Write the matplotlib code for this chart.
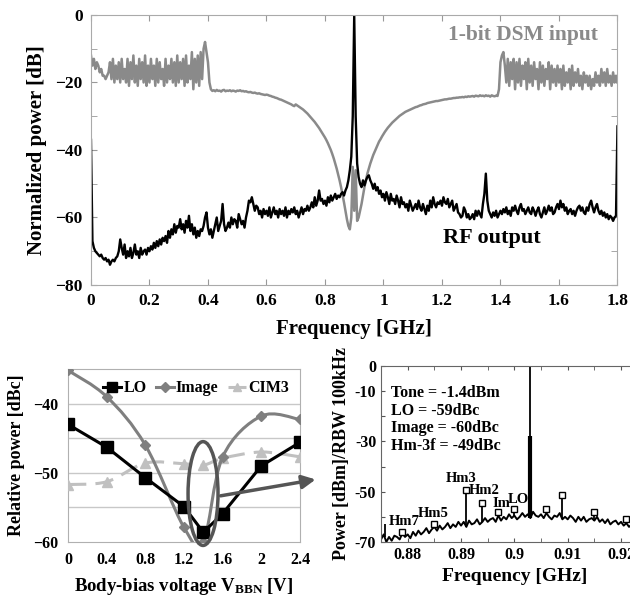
import numpy as np
import matplotlib
matplotlib.use("Agg")
import matplotlib.pyplot as plt
from matplotlib.path import Path
from matplotlib.patches import PathPatch, Ellipse
from matplotlib.lines import Line2D

plt.rcParams['font.family'] = 'Liberation Serif'
plt.rcParams['font.weight'] = 'bold'
plt.rcParams['axes.labelweight'] = 'bold'
plt.rcParams['mathtext.fontset'] = 'custom'
plt.rcParams['mathtext.rm'] = 'Liberation Serif:bold'
plt.rcParams['mathtext.it'] = 'Liberation Serif:bold'
plt.rcParams['mathtext.bf'] = 'Liberation Serif:bold'

# ---- top panel: normalized spectra, 0..1.8 GHz every 5 MHz ----
freq_top = np.linspace(0, 1.8, 361)

dsm_input = [
    -12, -15, -13, -16, -14, -15, -17, -16, -18, -18, -19, -18, -17, -14, -19, -13, -20, -15, -19, -14,
    -20, -13, -19, -16, -20, -13, -21, -14, -19, -12, -20, -15, -21, -13, -19, -14, -20, -12, -21, -15,
    -20, -13, -19, -15, -21, -13, -20, -14, -19, -16, -21, -13, -20, -15, -19, -13, -20, -14, -21, -12,
    -20, -14, -19, -13, -21, -12, -20, -15, -19, -11, -22, -13, -20, -12, -21, -11, -19, -10, -8, -11,
    -14, -20, -22, -22.5, -22.3, -22.6, -22.2, -22.5, -22.4, -22.7, -22.3, -22.2, -22.6, -22.4, -22.5, -22.3, -22.6, -22.4, -22.5, -22.7,
    -22.4, -22.5, -22.3, -22.6, -22.5, -22.7, -22.6, -22.8, -22.9, -22.8, -23.0, -23.1, -23.0, -23.2, -23.3, -23.2, -23.4, -23.5, -23.6, -23.7,
    -23.6, -23.7, -23.9, -24.0, -24.2, -24.3, -24.5, -24.6, -24.8, -25.0, -25.1, -25.3, -25.5, -25.7, -25.9, -26.1, -26.3, -26.5, -26.8, -27.0,
    -26.5, -26.8, -27.1, -27.4, -27.7, -28.0, -28.4, -28.8, -29.2, -29.7, -30.2, -30.7, -31.2, -31.7, -32.3, -32.9, -33.5, -34.2, -34.9, -35.6,
    -36.3, -37.1, -38.0, -39.0, -40.0, -41.2, -42.5, -44.0, -45.5, -47.2, -49.0, -51.0, -53.2, -55.5, -58.0, -60.5, -62.5, -63.5, -60.0, -45.0,
    -58, -46, -61, -60, -58, -56, -53.5, -51, -49, -47, -45.5, -44, -42.7, -41.5, -40.5, -39.5, -38.5, -37.5, -36.8, -36.0,
    -35.3, -34.6, -34.0, -33.4, -32.9, -32.4, -31.9, -31.5, -31.1, -30.7, -30.3, -29.9, -29.6, -29.3, -29.0, -28.7, -28.5, -28.3, -28.1, -27.9,
    -27.7, -27.5, -27.3, -27.2, -27.0, -26.8, -26.7, -26.5, -26.4, -26.3, -26.1, -26.0, -25.9, -25.8, -25.7, -25.6, -25.5, -25.5, -25.4, -25.3,
    -25.2, -25.1, -25.0, -25.0, -24.9, -24.8, -24.8, -24.7, -24.6, -24.6, -24.5, -24.5, -24.4, -24.4, -24.3, -24.4, -24.2, -24.3, -24.1, -24.2,
    -24.1, -24.0, -24.2, -23.9, -24.0, -24.1, -23.8, -24.0, -23.9, -24.1, -23.8, -24.0, -23.9, -24.2, -23.8, -24.0, -24.1, -23.9, -24.0, -22,
    -14, -12, -11, -15, -20, -13, -21, -14, -19, -13, -22, -14, -20, -13, -21, -15, -19, -14, -22, -13,
    -20, -15, -21, -14, -19, -16, -22, -14, -20, -15, -21, -16, -19, -14, -22, -15, -20, -16, -21, -15,
    -20, -16, -22, -15, -21, -17, -20, -16, -22, -15, -21, -17, -20, -16, -21, -18, -22, -17, -20, -18,
    -21, -18, -22, -19, -21, -17, -20, -18, -21, -16, -20, -17, -21, -16, -20, -18, -21, -17, -20, -18, -20,
]

rf_output = [
    -37, -67, -69, -70, -70.5, -71, -71.5, -71, -72, -72.5, -72, -73, -72.5, -74, -73, -72.5, -73, -72, -71.5, -70,
    -66.5, -69, -71, -68, -72, -70, -71.5, -69, -72, -70.5, -68, -71, -70, -72, -69, -71, -70, -69.5, -71, -69,
    -70, -68.5, -69.5, -67.5, -69, -67, -68.5, -66.5, -68, -66, -67, -65.5, -67.5, -64, -66, -63.5, -65, -62, -64.5, -62.5,
    -63, -60.5, -63.5, -62, -64.5, -61, -63, -59.5, -64, -62, -65, -63, -66, -64, -65.5, -63.5, -64, -62.5, -60, -58.5,
    -63, -65, -63.5, -66, -64, -62, -60, -64, -62.5, -61, -56, -62, -64, -63, -61.5, -63, -60, -62, -60.5, -61,
    -63, -59, -60.5, -62, -61, -63, -60, -58, -55, -55.5, -54, -56, -58, -56.5, -57, -59, -58, -60, -57.5, -59,
    -58, -59.5, -57, -60, -58.5, -57, -59, -58, -60, -57.5, -59, -58, -59.5, -57, -60, -58, -59, -57.5, -58.5, -57,
    -59, -58, -60, -58.5, -57, -59, -57.5, -58, -56.5, -58, -57, -55.5, -57, -54, -56.5, -55, -52, -55, -54.5, -56,
    -55, -56.5, -54, -55.5, -53.5, -55, -54, -53, -54.5, -53.5, -54, -53, -52.5, -53.5, -52, -51, -49, -46, -42, -30,
    0, -30, -44, -48, -50, -51, -49, -50.5, -49, -48, -47.5, -49, -50, -51.5, -50, -52, -51, -53, -52, -54,
    -53, -55, -52.5, -54, -56, -53, -55, -54.5, -56, -53.5, -55, -57, -54, -56, -55.5, -57, -56, -58, -55, -56.5,
    -58, -57, -56, -57.5, -55, -57, -58, -56, -57.5, -59, -56.5, -58, -55, -57, -54, -56, -57, -55.5, -56, -55,
    -56.5, -54, -55.5, -56, -54.5, -57, -56, -55, -58, -57, -56, -58.5, -59, -60, -59.5, -57, -58, -60, -59, -60.5,
    -60, -59, -60.5, -58, -59.5, -58, -59, -60, -56, -53, -47, -55, -58, -59, -60, -58.5, -59.5, -58, -60, -59,
    -58, -59, -57.5, -58.5, -57, -59, -58, -59.5, -57, -58, -56.5, -58, -59, -57, -56, -58, -57.5, -59, -58, -57,
    -58.5, -59, -57, -58, -59.5, -58, -57, -59, -60, -58.5, -57, -59, -58, -56.5, -58, -57, -59, -58.5, -57, -56,
    -57.5, -55, -57, -56, -58, -57, -59, -58, -57.5, -59, -58, -59.5, -58, -57, -56.5, -58, -57, -58.5, -59, -57,
    -58, -56, -55, -57, -58.5, -57, -56, -58, -59, -58, -59.5, -58.5, -60, -59, -60.5, -59.5, -60, -61, -60, -59.5, -33,
]

# ---- bottom-left: body-bias sweep ----
vbbn = [0, 0.4, 0.8, 1.2, 1.4, 1.6, 2.0, 2.4]
lo_dbc = [-43, -46.3, -50.7, -54.9, -58.6, -55.9, -49, -45.6]
image_dbc = [-35.2, -39, -46, -57.9, -60, -47.7, -41.8, -42.3]
cim3_dbc = [-51.7, -51.3, -48.6, -48.7, -48.9, -47.9, -47, -47.7]

# ---- bottom-right: zoomed output spectrum ----
freq_zoom = np.linspace(0.875, 0.925, 101)
floor_dbm = [
    -69, -67, -70, -68, -69.5, -67.5, -68, -69, -66.5, -68,
    -67, -68.5, -66, -67.5, -65.5, -67, -66, -64.5, -66.5, -65,
    -64, -65.5, -63.5, -65, -64, -62.5, -64.5, -63, -64, -62,
    -63.5, -62, -64, -61.5, -63, -62.5, -61, -63, -62, -60.5,
    -62, -61, -60.5, -62, -59.5, -61.5, -60, -61, -59, -60.5,
    -59.5, -61, -60, -58.5, -60, -59, -60.5, -58, -59.5, -60,
    -59, -60.5, -58.5, -60, -61, -59.5, -60, -58.5, -61, -60,
    -61, -59.5, -60.5, -62, -60, -61.5, -60, -62, -61, -60.5,
    -61.5, -60, -62, -61, -62.5, -61, -63, -62, -61.5, -63,
    -62, -63.5, -62.5, -64, -63, -62, -64.5, -63, -65, -64,
    -64.5,
]
spur_freq = [0.8757, 0.891, 0.894, 0.897, 0.900, 0.903, 0.906, 0.909, 0.915]
spur_peak = [-63, -50, -55, -58, -57, 0, -57, -51, -58]
mark_freq = [0.879, 0.885, 0.891, 0.894, 0.897, 0.900, 0.906, 0.909, 0.915, 0.921]
mark_peak = [-66, -63, -49.5, -54.5, -58, -57, -57, -51.5, -58, -61]
lbl_text = ["Hm7", "Hm5", "Hm3", "Hm2", "Im", "LO"]
lbl_freq = [0.8793, 0.8847, 0.8900, 0.8943, 0.8975, 0.9008]
lbl_db = [-62, -58.5, -44.6, -49.6, -54.6, -53.3]


def smooth(ax, x, y, **kw):
    # excel-like smoothed line through the points
    x = np.asarray(x, float)
    y = np.asarray(y, float)
    verts = [(x[0], y[0])]
    codes = [Path.MOVETO]
    n = len(x)
    for i in range(n - 1):
        p0 = (x[max(i - 1, 0)], y[max(i - 1, 0)])
        p1 = (x[i], y[i])
        p2 = (x[i + 1], y[i + 1])
        p3 = (x[min(i + 2, n - 1)], y[min(i + 2, n - 1)])
        c1 = (p1[0] + (p2[0] - p0[0]) / 6, p1[1] + (p2[1] - p0[1]) / 6)
        c2 = (p2[0] - (p3[0] - p1[0]) / 6, p2[1] - (p3[1] - p1[1]) / 6)
        verts += [c1, c2, p2]
        codes += [Path.CURVE4] * 3
    ax.add_patch(PathPatch(Path(verts, codes), fill=False, **kw))


def bold_ticks(a):
    plt.setp(a.get_xticklabels(), fontweight='bold')
    plt.setp(a.get_yticklabels(), fontweight='bold')


fig = plt.figure(figsize=(6.3, 5.99), dpi=100)

# ================= top =================
ax = fig.add_axes([0.1444, 0.5242, 0.8357, 0.4508])
ax.plot(freq_top, dsm_input, color='#8a8a8a', lw=1.8)
ax.plot(freq_top, rf_output, color='black', lw=1.7)
ax.set_xlim(0, 1.8)
ax.set_ylim(-80, 0)
ax.set_xticks(np.arange(0, 1.81, 0.2))
ax.set_xticklabels(['0', '0.2', '0.4', '0.6', '0.8', '1', '1.2', '1.4', '1.6', '1.8'])
ax.set_yticks([-80, -60, -40, -20, 0])
ax.set_yticks([-70, -50, -30, -10], minor=True)
ax.tick_params(which='both', direction='in', top=True, right=True, color='#999999',
               length=4, labelsize=12.5, pad=6)
bold_ticks(ax)
for s in ax.spines.values():
    s.set_color('#aaaaaa')
ax.set_xlabel('Frequency [GHz]', fontsize=15, labelpad=7)
ax.set_ylabel('Normalized power [dB]', fontsize=15, labelpad=6)
ax.text(1.477, -5.9, '1-bit DSM input', color='#8a8a8a', fontsize=15.5, ha='center', va='center')
ax.text(1.371, -66, 'RF output', color='black', fontsize=16, ha='center', va='center')

# ================= bottom left =================
bl = fig.add_axes([0.1079, 0.0952, 0.3683, 0.2888])
bl.set_xlim(0, 2.4)
bl.set_ylim(-60, -35)
bl.set_yticks([-60, -50, -40])
bl.set_xticks([0, 0.4, 0.8, 1.2, 1.6, 2, 2.4])
bl.set_xticklabels(['0', '0.4', '0.8', '1.2', '1.6', '2', '2.4'])
for g in [-55, -50, -45, -40]:
    bl.axhline(g, color='#c8c8c8', lw=1, zorder=0)
bl.tick_params(length=0, labelsize=11.5, pad=7)
bold_ticks(bl)
for s in bl.spines.values():
    s.set_color('#b0b0b0')

smooth(bl, vbbn, cim3_dbc, edgecolor='#c0c0c0', lw=2.2, linestyle=(0, (6, 3)), zorder=2)
bl.plot(vbbn, cim3_dbc, ls='none', marker='^', ms=7, color='#c0c0c0', zorder=3)
smooth(bl, vbbn, image_dbc, edgecolor='#7f7f7f', lw=2.2, zorder=3)
bl.plot(vbbn, image_dbc, ls='none', marker='D', ms=5, color='#7f7f7f', zorder=4)
bl.plot(vbbn, lo_dbc, color='black', lw=2.2, marker='s', ms=8, zorder=5)

handles = [Line2D([], [], color='black', lw=2.2, marker='s', ms=7),
           Line2D([], [], color='#7f7f7f', lw=2.2, marker='D', ms=5),
           Line2D([], [], color='#c0c0c0', lw=2.2, ls=(0, (6, 3)), marker='^', ms=6)]
bl.legend(handles, ['LO', 'Image', 'CIM3'], loc='upper right', ncol=3, frameon=False,
          fontsize=11.5, handlelength=1.1, handletextpad=0.15, columnspacing=0.6,
          borderaxespad=0.3, bbox_to_anchor=(1.0, 1.0))

bl.add_patch(Ellipse((1.397, -53), 0.31, 15, fill=False, edgecolor='#555555', lw=2.5,
                     clip_on=False, zorder=6))
bl.annotate('', xy=(2.59, -50.9), xytext=(1.55, -53.4), annotation_clip=False,
            arrowprops=dict(arrowstyle='-|>,head_length=0.8,head_width=0.4',
                            color='#555555', lw=2.5), zorder=6)
bl.set_ylabel('Relative power [dBc]', fontsize=13, labelpad=6)
bl.set_xlabel(r'Body-bias voltage V$_{\mathrm{BBN}}$ [V]', fontsize=13.5, labelpad=6)

# ================= bottom right =================
br = fig.add_axes([0.6048, 0.0952, 0.4233, 0.2938])
br.plot(freq_zoom, floor_dbm, color='black', lw=1.4)
base = np.interp(spur_freq, freq_zoom, floor_dbm)
br.vlines(spur_freq, base, spur_peak, color='black', lw=1.3)
br.vlines([spur_freq[5]], [base[5]], [-28], color='black', lw=3)
br.plot(mark_freq, mark_peak, ls='none', marker='s', ms=5, mfc='white', mec='black', mew=1)
for t, fx, fy in zip(lbl_text, lbl_freq, lbl_db):
    br.text(fx, fy, t, fontsize=10.5, ha='center', va='center')
br.text(0.8769, -7.5, 'Tone = -1.4dBm\nLO = -59dBc\nImage = -60dBc\nHm-3f = -49dBc',
        fontsize=11.5, ha='left', va='top', linespacing=1.15)
br.set_xlim(0.875, 0.925)
br.set_ylim(-70, 0)
br.set_xticks([0.88, 0.89, 0.9, 0.91, 0.92])
br.set_xticklabels(['0.88', '0.89', '0.9', '0.91', '0.92'])
br.set_xticks([0.885, 0.895, 0.905, 0.915], minor=True)
br.set_yticks([-70, -60, -50, -40, -30, -20, -10, 0])
br.set_yticklabels(['-70', '', '-50', '', '-30', '', '-10', '0'])
br.tick_params(which='both', direction='in', top=True, right=True, length=3,
               labelsize=11.5, color='#555555')
bold_ticks(br)
for s in br.spines.values():
    s.set_color('#666666')
br.set_xlabel('Frequency [GHz]', fontsize=14, labelpad=4)
br.set_ylabel('Power [dBm]/RBW 100kHz', fontsize=13, labelpad=3)

fig.savefig('out.png', dpi=100)
